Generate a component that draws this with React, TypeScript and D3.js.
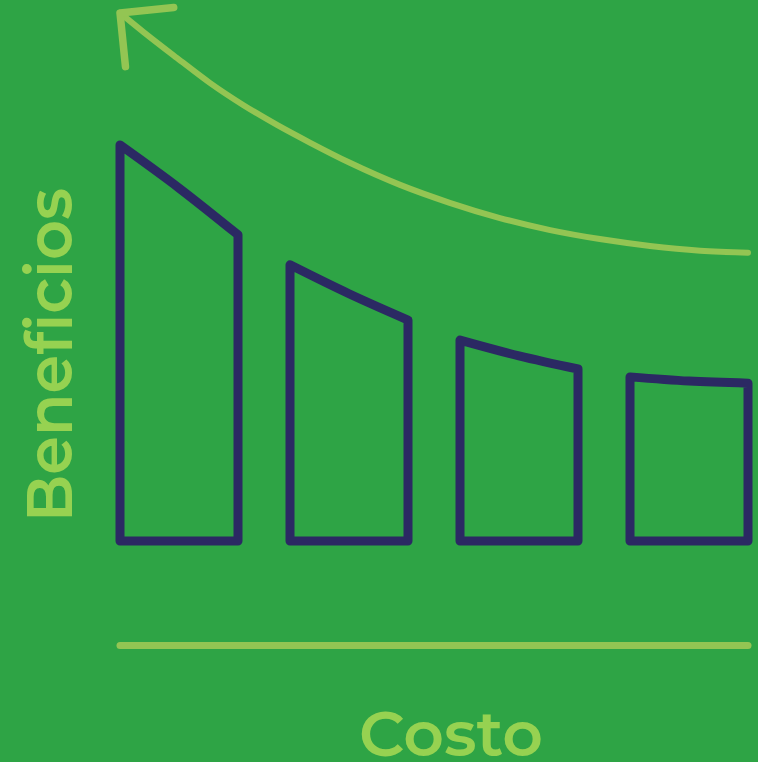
import React from "react";
import * as d3 from "d3";

// ---- data ----
const categories = ["1", "2", "3", "4"];
const barTopLeft = [75.3, 52.5, 38.2, 31.2];
const barTopMid = [67.1, 47.0, 35.2, 30.4];
const barTopRight = [58.2, 42.0, 32.7, 30.0];

const curveCost = [0, 0.37, 0.91, 1.43, 1.96, 2.5, 3.03, 3.66, 4.46, 5.25, 6.05, 6.85, 7.64, 8.44, 9.24, 10];
const curveBenefit = [100.4, 96.8, 91.8, 87.1, 82.9, 79.1, 75.7, 71.9, 67.7, 64.3, 61.4, 59.1, 57.4, 56.1, 55.2, 54.8];

const xLabel = "Costo";
const yLabel = "Beneficios";

// ---- style ----
const W = 758;
const H = 762;
const BG = "#2EA445";
const NAVY = "#2B2963";
const LINE = "#93C553";
const TEXT = "#96D251";
const FONT = "Montserrat, 'Open Sans', 'DejaVu Sans', sans-serif";

export default function App() {
  const x0 = 120;
  const x1 = 748;
  const yBase = 541;
  const yTop = 15;

  const xCost = d3.scaleLinear().domain([0, 10]).range([x0, x1]);
  const y = d3.scaleLinear().domain([0, 100]).range([yBase, yTop]);
  const band = d3
    .scaleBand<string>()
    .domain(categories)
    .range([x0, x1])
    .paddingInner(52 / 170)
    .paddingOuter(0);

  const topLine = d3
    .line<[number, number]>()
    .x((d) => d[0])
    .y((d) => d[1])
    .curve(d3.curveNatural);

  const bars = categories.map((c, i) => {
    const l = band(c) as number;
    const r = l + band.bandwidth();
    const m = (l + r) / 2;
    const top = topLine([
      [l, y(barTopLeft[i])],
      [m, y(barTopMid[i])],
      [r, y(barTopRight[i])],
    ]) as string;
    const d = `M${l},${y(0)}L${l},${y(barTopLeft[i])}` + top.replace(/^M[^LC]*/, "") + `L${r},${y(0)}Z`;
    return d;
  });

  const pts: [number, number][] = curveCost.map((c, i) => [xCost(c), y(curveBenefit[i])]);
  const curvePath = d3
    .line<[number, number]>()
    .x((d) => d[0])
    .y((d) => d[1])
    .curve(d3.curveMonotoneX)(pts) as string;

  // arrow head at the first point, pointing backwards along the curve
  const tip = pts[0];
  const nxt = pts[1];
  const ang = Math.atan2(nxt[1] - tip[1], nxt[0] - tip[0]);
  const spread = (45 * Math.PI) / 180;
  const len = 54;
  const b1: [number, number] = [tip[0] + len * Math.cos(ang - spread), tip[1] + len * Math.sin(ang - spread)];
  const b2: [number, number] = [tip[0] + len * Math.cos(ang + spread), tip[1] + len * Math.sin(ang + spread)];
  const headPath = `M${b1[0]},${b1[1]}L${tip[0]},${tip[1]}L${b2[0]},${b2[1]}`;

  return (
    <svg
      width={W}
      height={H}
      viewBox={`0 0 ${W} ${H}`}
      style={{ position: "absolute", left: 0, top: 0, display: "block" }}
    >
      <rect x={0} y={0} width={W} height={H} fill={BG} />
      {bars.map((d, i) => (
        <path
          key={i}
          d={d}
          fill="none"
          stroke={NAVY}
          strokeWidth={9}
          strokeLinejoin="round"
        />
      ))}
      <path d={curvePath} fill="none" stroke={LINE} strokeWidth={6} strokeLinecap="round" />
      <path
        d={headPath}
        fill="none"
        stroke={LINE}
        strokeWidth={7.5}
        strokeLinecap="round"
        strokeLinejoin="round"
      />
      <line
        x1={xCost(0)}
        x2={xCost(10)}
        y1={645.5}
        y2={645.5}
        stroke={LINE}
        strokeWidth={7}
        strokeLinecap="round"
      />
      <text
        x={359}
        y={756}
        fill={TEXT}
        fontFamily={FONT}
        fontSize={63}
        fontWeight={600}
        textLength={184}
        lengthAdjust="spacingAndGlyphs"
      >
        {xLabel}
      </text>
      <text
        transform="translate(72,522) rotate(-90)"
        x={0}
        y={0}
        fill={TEXT}
        fontFamily={FONT}
        fontSize={64}
        fontWeight={600}
        textLength={334}
        lengthAdjust="spacingAndGlyphs"
      >
        {yLabel}
      </text>
    </svg>
  );
}
